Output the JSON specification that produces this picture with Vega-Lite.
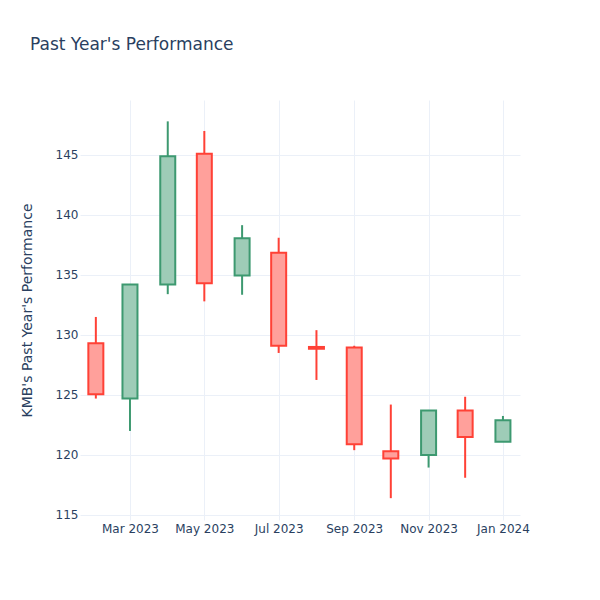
{
  "$schema": "https://vega.github.io/schema/vega-lite/v6.json",
  "width": 440,
  "height": 420,
  "autosize": {"type": "none"},
  "padding": {"left": 80, "top": 100, "right": 80, "bottom": 80},
  "background": "white",
  "title": {
    "text": "Past Year's Performance",
    "anchor": "start",
    "frame": "group",
    "dx": -50,
    "offset": 33,
    "baseline": "alphabetic",
    "font": "DejaVu Sans",
    "fontSize": 17,
    "fontWeight": "normal",
    "color": "#2a3f5f"
  },
  "config": {
    "view": {"stroke": null},
    "axis": {
      "domain": false,
      "ticks": false,
      "gridColor": "#ebf0f8",
      "gridWidth": 1,
      "labelFont": "DejaVu Sans",
      "labelFontSize": 12,
      "labelColor": "#2a3f5f",
      "titleFont": "DejaVu Sans",
      "titleFontSize": 14,
      "titleFontWeight": "normal",
      "titleColor": "#2a3f5f"
    }
  },
  "data": {
    "values": [
      {"date": "2023-02-01", "open": 129.3, "close": 125.05, "high": 131.5, "low": 124.7},
      {"date": "2023-03-01", "open": 124.7, "close": 134.2, "high": 134.25, "low": 122.0},
      {"date": "2023-04-01", "open": 134.2, "close": 144.9, "high": 147.8, "low": 133.4},
      {"date": "2023-05-01", "open": 145.1, "close": 134.3, "high": 147.0, "low": 132.8},
      {"date": "2023-06-01", "open": 134.95, "close": 138.05, "high": 139.15, "low": 133.35},
      {"date": "2023-07-01", "open": 136.85, "close": 129.1, "high": 138.1, "low": 128.5},
      {"date": "2023-08-01", "open": 129.0, "close": 128.85, "high": 130.4, "low": 126.25},
      {"date": "2023-09-01", "open": 128.95, "close": 120.9, "high": 129.1, "low": 120.4},
      {"date": "2023-10-01", "open": 120.3, "close": 119.7, "high": 124.2, "low": 116.4},
      {"date": "2023-11-01", "open": 120.0, "close": 123.7, "high": 123.75, "low": 118.95},
      {"date": "2023-12-01", "open": 123.7, "close": 121.5, "high": 124.85, "low": 118.1},
      {"date": "2024-01-01", "open": 121.1, "close": 122.9, "high": 123.25, "low": 121.1}
    ]
  },
  "encoding": {
    "x": {
      "field": "date",
      "type": "temporal",
      "scale": {
        "type": "utc",
        "padding": 0,
        "domain": [
          {"year": 2023, "month": "jan", "date": 19, "utc": true},
          {"year": 2024, "month": "jan", "date": 15, "utc": true}
        ]
      },
      "axis": {
        "title": null,
        "format": "%b %Y",
        "tickCount": {"interval": "month", "step": 2},
        "labelPadding": 3,
        "labelFlush": false,
        "labelOverlap": false
      }
    }
  },
  "layer": [
    {
      "mark": {"type": "rule", "strokeWidth": 2},
      "encoding": {
        "y": {
          "field": "low",
          "type": "quantitative",
          "scale": {"domain": [114.58, 149.58], "nice": false, "zero": false},
          "axis": {
            "title": "KMB's Past Year's Performance",
            "values": [115, 120, 125, 130, 135, 140, 145],
            "labelPadding": 2,
            "titlePadding": 21
          }
        },
        "y2": {"field": "high"},
        "color": {
          "condition": {"test": "datum.close >= datum.open", "value": "#3D9970"},
          "value": "#FF4136"
        }
      }
    },
    {
      "mark": {"type": "bar", "size": 15, "strokeWidth": 2},
      "encoding": {
        "y": {"field": "open", "type": "quantitative"},
        "y2": {"field": "close"},
        "fill": {
          "condition": {"test": "datum.close >= datum.open", "value": "#9ECCB7"},
          "value": "#FFA09B"
        },
        "stroke": {
          "condition": {"test": "datum.close >= datum.open", "value": "#3D9970"},
          "value": "#FF4136"
        }
      }
    }
  ]
}
